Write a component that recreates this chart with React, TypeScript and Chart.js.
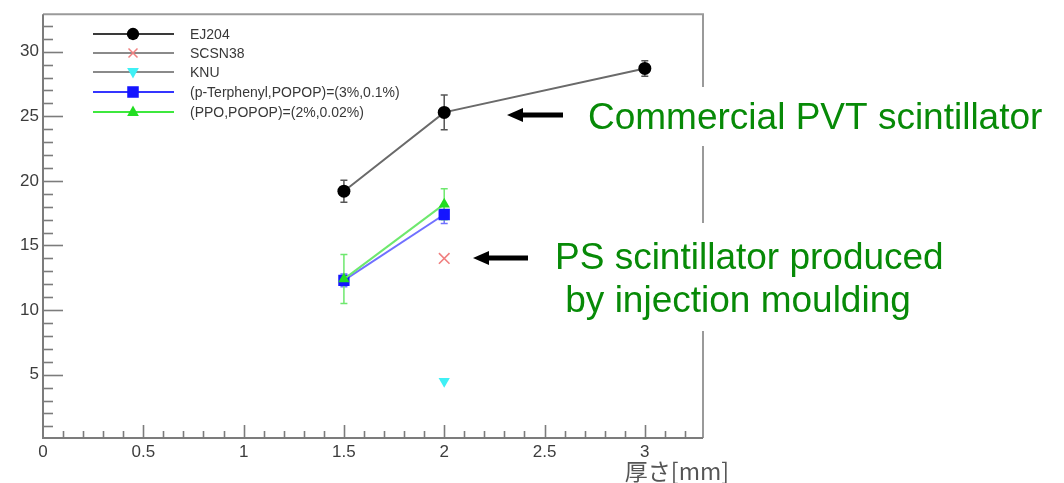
import { useEffect, useRef } from "react";
import { Chart, registerables } from "chart.js";

Chart.register(...registerables);

// Light yield vs. scintillator thickness
const seriesNames = [
  "EJ204",
  "SCSN38",
  "KNU",
  "(p-Terphenyl,POPOP)=(3%,0.1%)",
  "(PPO,POPOP)=(2%,0.02%)",
];

const ej204X = [1.5, 2, 3];
const ej204Y = [19.2, 25.3, 28.7];
const ej204Err = [0.85, 1.35, 0.6];

const scsn38X = [2];
const scsn38Y = [14.0];

const knuX = [2];
const knuY = [4.5];

const terphenylX = [1.5, 2];
const terphenylY = [12.3, 17.4];
const terphenylErr = [0.5, 0.7];

const ppoX = [1.5, 2];
const ppoY = [12.4, 18.2];
const ppoErr = [1.9, 1.2];

const xTickLabels = [0, 0.5, 1, 1.5, 2, 2.5, 3];
const yTickLabels = [5, 10, 15, 20, 25, 30];
const xRange = [0, 3.29];
const yRange = [0.1, 32.9];

const xTitle = "厚さ[mm]";
const noteTop = "Commercial PVT scintillator";
const noteBottom = ["PS scintillator produced", " by injection moulding"];

const FONT = "'Liberation Sans', Arial, Helvetica, sans-serif";

const toPoints = (xs: number[], ys: number[]) => xs.map((x, i) => ({ x, y: ys[i] }));

type Series = {
  label: string;
  data: { x: number; y: number }[];
  errors?: number[];
  lineColor: string;
  legendLine: string;
  pointColor: string;
  pointStyle: string;
  rotation?: number;
  radius: number;
  showLine: boolean;
};

const series: Series[] = [
  {
    label: seriesNames[0],
    data: toPoints(ej204X, ej204Y),
    errors: ej204Err,
    lineColor: "#6a6a6a",
    legendLine: "#3a3a3a",
    pointColor: "#000000",
    pointStyle: "circle",
    radius: 6.5,
    showLine: true,
  },
  {
    label: seriesNames[1],
    data: toPoints(scsn38X, scsn38Y),
    lineColor: "#8a8a8a",
    legendLine: "#8a8a8a",
    pointColor: "#f08080",
    pointStyle: "crossRot",
    radius: 7.5,
    showLine: false,
  },
  {
    label: seriesNames[2],
    data: toPoints(knuX, knuY),
    lineColor: "#8a8a8a",
    legendLine: "#8a8a8a",
    pointColor: "#3ff0f5",
    pointStyle: "triangle",
    rotation: 180,
    radius: 6.5,
    showLine: false,
  },
  {
    label: seriesNames[3],
    data: toPoints(terphenylX, terphenylY),
    errors: terphenylErr,
    lineColor: "#7070ff",
    legendLine: "#3535ff",
    pointColor: "#1515ff",
    pointStyle: "rect",
    radius: 8,
    showLine: true,
  },
  {
    label: seriesNames[4],
    data: toPoints(ppoX, ppoY),
    errors: ppoErr,
    lineColor: "#6ee86e",
    legendLine: "#3ee83e",
    pointColor: "#22dd22",
    pointStyle: "triangle",
    radius: 6.5,
    showLine: true,
  },
];

// ROOT-style frame with inward ticks
const framePlugin = {
  id: "frame",
  beforeDatasetsDraw(chart: any) {
    const { ctx, chartArea: a, scales } = chart;
    const xs = scales.x;
    const ys = scales.y;
    ctx.save();
    ctx.lineWidth = 2;
    ctx.strokeStyle = "#9a9a9a";
    ctx.beginPath();
    ctx.moveTo(a.left, a.top);
    ctx.lineTo(a.right, a.top);
    ctx.lineTo(a.right, a.bottom);
    ctx.stroke();
    ctx.strokeStyle = "#7c7c7c";
    ctx.beginPath();
    ctx.moveTo(a.left, a.top);
    ctx.lineTo(a.left, a.bottom);
    ctx.lineTo(a.right, a.bottom);
    ctx.stroke();

    ctx.lineWidth = 1.6;
    for (let v = 1; v < yRange[1]; v += 1) {
      const py = Math.round(ys.getPixelForValue(v)) + 0.5;
      const major = yTickLabels.includes(v);
      ctx.beginPath();
      ctx.moveTo(a.left, py);
      ctx.lineTo(a.left + (major ? 20 : 10), py);
      ctx.stroke();
    }
    for (let k = 1; k / 10 < xRange[1]; k += 1) {
      const px = Math.round(xs.getPixelForValue(k / 10)) + 0.5;
      const major = k % 5 === 0;
      ctx.beginPath();
      ctx.moveTo(px, a.bottom);
      ctx.lineTo(px, a.bottom - (major ? 13 : 7));
      ctx.stroke();
    }

    // error bars
    chart.data.datasets.forEach((ds: any) => {
      if (!ds.errors) return;
      ctx.strokeStyle = ds.errColor;
      ctx.lineWidth = 1.5;
      ds.data.forEach((p: any, i: number) => {
        const px = xs.getPixelForValue(p.x);
        const y1 = ys.getPixelForValue(p.y + ds.errors[i]);
        const y2 = ys.getPixelForValue(p.y - ds.errors[i]);
        ctx.beginPath();
        ctx.moveTo(px, y1);
        ctx.lineTo(px, y2);
        ctx.moveTo(px - 3.5, y1);
        ctx.lineTo(px + 3.5, y1);
        ctx.moveTo(px - 3.5, y2);
        ctx.lineTo(px + 3.5, y2);
        ctx.stroke();
      });
    });
    ctx.restore();
  },
};

function drawMarker(ctx: CanvasRenderingContext2D, s: Series, x: number, y: number) {
  ctx.save();
  ctx.fillStyle = s.pointColor;
  ctx.strokeStyle = s.pointColor;
  ctx.lineWidth = 1.5;
  const r = s.radius;
  if (s.pointStyle === "circle") {
    ctx.beginPath();
    ctx.arc(x, y, r * 0.95, 0, Math.PI * 2);
    ctx.fill();
  } else if (s.pointStyle === "rect") {
    ctx.fillRect(x - r * 0.72, y - r * 0.72, r * 1.44, r * 1.44);
  } else if (s.pointStyle === "crossRot") {
    const d = r * 0.6;
    ctx.beginPath();
    ctx.moveTo(x - d, y - d);
    ctx.lineTo(x + d, y + d);
    ctx.moveTo(x + d, y - d);
    ctx.lineTo(x - d, y + d);
    ctx.stroke();
  } else {
    const dir = s.rotation === 180 ? -1 : 1;
    ctx.beginPath();
    ctx.moveTo(x, y - dir * r);
    ctx.lineTo(x + r * 0.9, y + dir * r * 0.6);
    ctx.lineTo(x - r * 0.9, y + dir * r * 0.6);
    ctx.closePath();
    ctx.fill();
  }
  ctx.restore();
}

function drawArrow(ctx: CanvasRenderingContext2D, tipX: number, endX: number, y: number) {
  ctx.save();
  ctx.fillStyle = "#000";
  ctx.beginPath();
  ctx.moveTo(tipX, y);
  ctx.lineTo(tipX + 16, y - 7);
  ctx.lineTo(tipX + 16, y - 2.5);
  ctx.lineTo(endX, y - 2.5);
  ctx.lineTo(endX, y + 2.5);
  ctx.lineTo(tipX + 16, y + 2.5);
  ctx.lineTo(tipX + 16, y + 7);
  ctx.closePath();
  ctx.fill();
  ctx.restore();
}

const overlayPlugin = {
  id: "overlay",
  afterDraw(chart: any) {
    const { ctx, chartArea: a } = chart;
    ctx.save();

    // legend
    const rowY = [34, 53, 72, 92, 112];
    series.forEach((s, i) => {
      const y = rowY[i];
      ctx.strokeStyle = s.legendLine;
      ctx.lineWidth = 2;
      ctx.beginPath();
      ctx.moveTo(93, y);
      ctx.lineTo(174, y);
      ctx.stroke();
      drawMarker(ctx, s, 133, y);
      ctx.fillStyle = "#383838";
      ctx.font = `14px ${FONT}`;
      ctx.textAlign = "left";
      ctx.textBaseline = "middle";
      ctx.fillText(s.label, 190, y + 1);
    });

    // axis title
    ctx.fillStyle = "#555";
    ctx.font = `23px 'Noto Sans CJK JP', ${FONT}`;
    ctx.textAlign = "right";
    ctx.textBaseline = "alphabetic";
    ctx.fillText(xTitle, a.right + 26, 480);

    // annotations on white boxes
    ctx.fillStyle = "#fff";
    ctx.fillRect(586, 87, 474, 59);
    ctx.fillRect(545, 223, 460, 108);
    ctx.fillStyle = "#078a07";
    ctx.font = `37px ${FONT}`;
    ctx.textAlign = "left";
    ctx.fillText(noteTop, 588, 129);
    ctx.fillText(noteBottom[0], 555, 269);
    ctx.fillText(noteBottom[1], 555, 312);

    drawArrow(ctx, 507, 563, 115);
    drawArrow(ctx, 473, 528, 258);
    ctx.restore();
  },
};

export default function App() {
  const ref = useRef<HTMLCanvasElement | null>(null);

  useEffect(() => {
    if (!ref.current) return;
    const chart = new Chart(ref.current, {
      type: "scatter",
      data: {
        datasets: series.map((s, i) => ({
          label: s.label,
          data: s.data,
          errors: s.errors,
          errColor: s.pointStyle === "circle" ? "#555" : s.lineColor,
          showLine: s.showLine,
          borderColor: s.lineColor,
          borderWidth: 2,
          backgroundColor: s.pointColor,
          pointBackgroundColor: s.pointColor,
          pointBorderColor: s.pointColor,
          pointBorderWidth: s.pointStyle === "crossRot" ? 1.6 : 0,
          pointStyle: s.pointStyle,
          pointRotation: s.rotation ?? 0,
          pointRadius: s.radius,
          order: series.length - i,
        })) as any,
      },
      options: {
        responsive: false,
        animation: false,
        events: [],
        layout: { padding: { left: 0, top: 9, right: 361, bottom: 0 } },
        plugins: { legend: { display: false }, tooltip: { enabled: false } },
        scales: {
          x: {
            type: "linear",
            min: xRange[0],
            max: xRange[1],
            grid: { display: false, drawTicks: false },
            border: { display: false },
            afterBuildTicks: (scale: any) => {
              scale.ticks = xTickLabels.map((v) => ({ value: v }));
            },
            afterFit: (scale: any) => {
              scale.height = 45;
            },
            ticks: {
              padding: 4,
              color: "#3c3c3c",
              font: { family: FONT, size: 17 },
              callback: (v: any) => String(v),
              maxRotation: 0,
              autoSkip: false,
            },
          },
          y: {
            type: "linear",
            min: yRange[0],
            max: yRange[1],
            grid: { display: false, drawTicks: false },
            border: { display: false },
            afterBuildTicks: (scale: any) => {
              scale.ticks = yTickLabels.map((v) => ({ value: v }));
            },
            afterFit: (scale: any) => {
              scale.width = 43;
            },
            ticks: {
              padding: 4,
              color: "#3c3c3c",
              font: { family: FONT, size: 17 },
              callback: (v: any) => String(v),
              autoSkip: false,
            },
          },
        },
      },
      plugins: [framePlugin, overlayPlugin],
    });
    return () => chart.destroy();
  }, []);

  return (
    <div style={{ position: "fixed", left: 0, top: 0, width: 1064, height: 483, background: "#fff" }}>
      <canvas ref={ref} width={1064} height={483} style={{ display: "block" }} />
    </div>
  );
}
